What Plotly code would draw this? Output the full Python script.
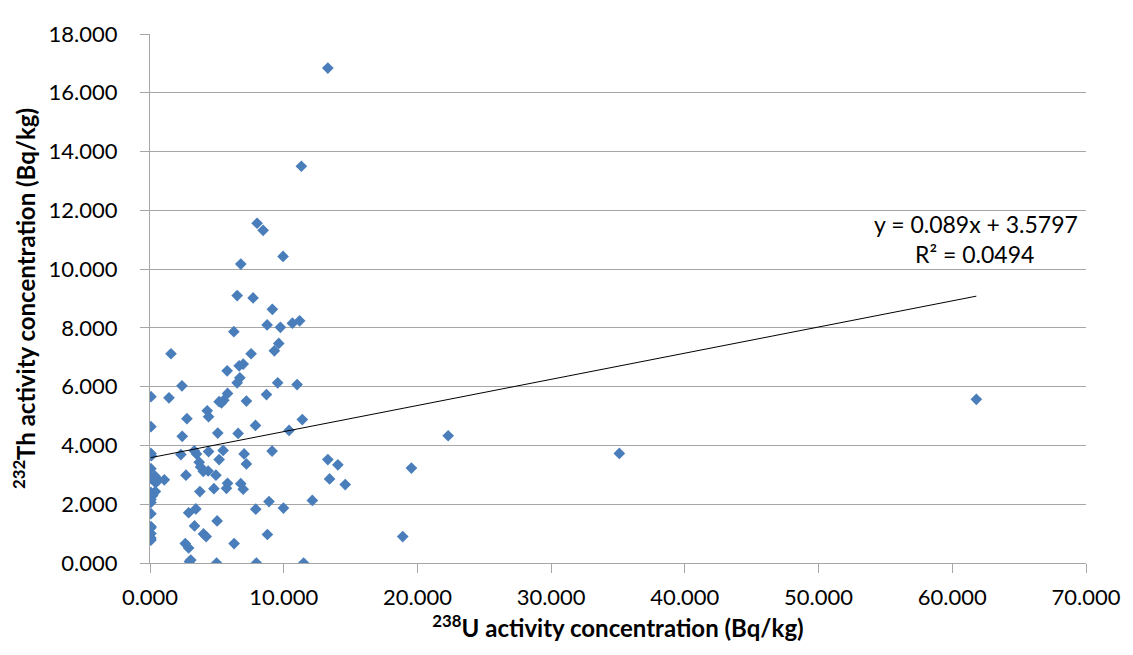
import plotly.graph_objects as go

u238 = [13.3, 11.32, 8.01, 8.46, 6.79, 9.95, 6.52, 7.71, 9.15, 8.76, 9.75, 10.65, 11.19, 6.27,
        9.63, 9.3, 1.57, 7.56, 5.77, 6.67, 6.97, 6.72, 6.52, 9.55, 11.0, 2.39, 0.07, 1.42, 5.8,
        5.17, 5.52, 5.35, 7.21, 8.71, 4.28, 4.38, 2.76, 0.07, 7.89, 11.39, 10.4, 2.41, 5.07, 6.59,
        0.07, 0.1, 2.31, 3.31, 3.48, 4.38, 5.47, 5.17, 7.04, 7.21, 9.13, 3.68, 3.78, 3.98, 4.35,
        4.93, 2.69, 0.07, 0.07, 0.37, 0.62, 0.42, 1.07, 0.07, 0.2, 0.07, 0.07, 0.4, 3.73, 4.78,
        5.72, 5.8, 6.79, 6.97, 0.07, 2.89, 3.43, 7.91, 8.9, 9.98, 12.14, 0.07, 0.07, 0.07, 0.07,
        0.07, 3.33, 5.02, 4.0, 4.2, 2.64, 2.89, 6.29, 8.78, 2.95, 3.05, 4.98, 7.96, 11.49, 13.3,
        14.05, 14.6, 13.43, 18.9, 19.55, 22.3, 35.1, 61.8]
th232 = [16.84, 13.5, 11.56, 11.32, 10.17, 10.43, 9.1, 9.02, 8.63, 8.1, 8.02, 8.16, 8.24, 7.87,
         7.47, 7.22, 7.12, 7.12, 6.54, 6.71, 6.77, 6.3, 6.13, 6.13, 6.07, 6.03, 5.66, 5.62, 5.77,
         5.49, 5.54, 5.45, 5.51, 5.73, 5.18, 4.98, 4.91, 4.64, 4.68, 4.88, 4.51, 4.31, 4.42, 4.41,
         3.73, 3.65, 3.69, 3.82, 3.71, 3.79, 3.83, 3.52, 3.71, 3.37, 3.81, 3.43, 3.27, 3.12, 3.13,
         2.99, 2.99, 3.21, 2.88, 2.96, 2.82, 2.73, 2.83, 2.4, 2.3, 2.16, 2.06, 2.43, 2.43, 2.53,
         2.54, 2.71, 2.7, 2.51, 1.68, 1.71, 1.84, 1.83, 2.09, 1.87, 2.13, 1.24, 1.2, 1.0, 0.85,
         0.78, 1.26, 1.43, 0.99, 0.9, 0.66, 0.51, 0.66, 0.97, 0.05, 0.1, 0.0, 0.0, 0.0, 3.52,
         3.34, 2.67, 2.86, 0.9, 3.23, 4.33, 3.73, 5.57]

slope = 0.089
intercept = 3.5797
r2 = 0.0494

x_ticks = [0, 10, 20, 30, 40, 50, 60, 70]
y_ticks = [0, 2, 4, 6, 8, 10, 12, 14, 16, 18]

xmin, xmax = min(u238), max(u238)
trend_x = [xmin, xmax]
trend_y = [slope * v + intercept for v in trend_x]

font_family = "Lato, 'Open Sans', sans-serif"
grey = "#A6A6A6"

fig = go.Figure()
fig.add_trace(go.Scatter(
    x=u238, y=th232, mode="markers",
    marker=dict(symbol="diamond", size=9, color="#4A7EBB", line=dict(width=0)),
    showlegend=False, hoverinfo="x+y"))
fig.add_trace(go.Scatter(
    x=trend_x, y=trend_y, mode="lines",
    line=dict(color="black", width=1), showlegend=False, hoverinfo="skip"))

fig.add_annotation(
    x=53.96, y=11.53, xref="x", yref="y", xanchor="left", yanchor="middle",
    text=f"y = {slope}x + {intercept}",
    showarrow=False, font=dict(family=font_family, size=23, color="black"))
fig.add_annotation(
    x=57.09, y=10.53, xref="x", yref="y", xanchor="left", yanchor="middle",
    text=f"R² = {r2}",
    showarrow=False, font=dict(family=font_family, size=23, color="black"))

fig.update_layout(
    width=1125, height=647,
    margin=dict(l=142, r=45, t=15, b=92),
    plot_bgcolor="white", paper_bgcolor="white",
    font=dict(family=font_family, size=22, color="black"),
    xaxis=dict(
        range=[0, 70], tickvals=x_ticks, tickformat=".3f",
        showgrid=False, zeroline=False,
        showline=True, linecolor=grey, linewidth=1,
        ticks="outside", ticklen=9, tickcolor=grey,
        ticklabelstandoff=6,
        tickfont=dict(size=22),
        title=dict(text="<b><sup>238</sup>U activity concentration (Bq/kg)</b>",
                   font=dict(size=24), standoff=8)),
    yaxis=dict(
        range=[0, 18], tickvals=y_ticks, tickformat=".3f",
        showgrid=True, gridcolor=grey, gridwidth=1, zeroline=False,
        showline=True, linecolor=grey, linewidth=1,
        ticks="outside", ticklen=9, tickcolor=grey,
        ticklabelstandoff=18,
        tickfont=dict(size=22),
        title=dict(text="<b><sup>232</sup>Th activity concentration (Bq/kg)</b>",
                   font=dict(size=24), standoff=6)),
)

fig.write_html("out.html")
